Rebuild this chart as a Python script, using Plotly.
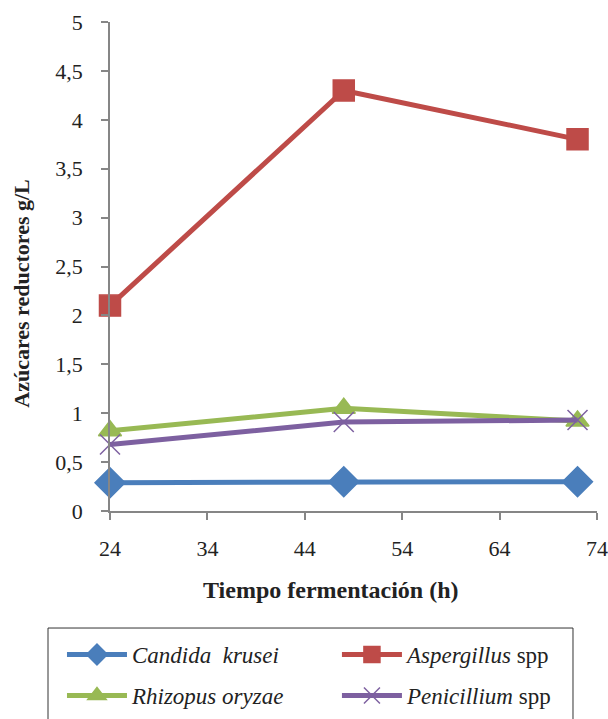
import plotly.graph_objects as go

x_hours = [24, 48, 72]
candida = [0.29, 0.30, 0.30]
aspergillus = [2.10, 4.30, 3.80]
rhizopus = [0.82, 1.05, 0.92]
penicillium = [0.68, 0.91, 0.93]

y_ticks = [0, 0.5, 1, 1.5, 2, 2.5, 3, 3.5, 4, 4.5, 5]
y_labels = ["0", "0,5", "1", "1,5", "2", "2,5", "3", "3,5", "4", "4,5", "5"]
x_ticks = [24, 34, 44, 54, 64, 74]

FONT = "'Liberation Serif', 'Times New Roman', serif"

series = [
    ("<i>Candida  krusei</i>", candida, "#4A7EBB", "diamond", 23, "legend"),
    ("<i>Aspergillus</i> spp", aspergillus, "#BE4B48", "square", 21, "legend2"),
    ("<i>Rhizopus oryzae</i>", rhizopus, "#98B954", "triangle-up", 20, "legend3"),
    ("<i>Penicillium</i> spp", penicillium, "#7D60A0", "x-thin-open", 20, "legend4"),
]

fig = go.Figure()
for name, vals, col, sym, sz, lg in series:
    fig.add_trace(go.Scatter(
        x=x_hours, y=vals, name=name, mode="lines+markers",
        line=dict(color=col, width=5),
        marker=dict(symbol=sym, size=sz, color=col, line=dict(color=col, width=1.5)),
        legend=lg, cliponaxis=False,
    ))

axis_col = "#868686"
leg_common = dict(
    xanchor="left", yanchor="top",
    font=dict(family=FONT, size=23, color="#222222"), bgcolor="rgba(0,0,0,0)", itemwidth=60,
)
col1_x, col2_x = -0.0986, 0.466
row1_y, row2_y = -0.2495, -0.3333

fig.update_layout(
    width=608, height=719,
    margin=dict(l=110, r=11, t=22, b=208, autoexpand=False),
    paper_bgcolor="white", plot_bgcolor="white",
    font=dict(family=FONT, size=22, color="#222222"),
    showlegend=True,
    xaxis=dict(
        range=[24, 74], tickvals=x_ticks, showgrid=False, zeroline=False,
        showline=True, linecolor=axis_col, linewidth=1.5,
        ticks="outside", ticklen=7, tickcolor=axis_col, tickwidth=1.5,
        ticklabelstandoff=10, automargin=False,
        tickfont=dict(family=FONT, size=22),
    ),
    yaxis=dict(
        range=[0, 5], tickvals=y_ticks, ticktext=y_labels, showgrid=False, zeroline=False,
        showline=True, linecolor=axis_col, linewidth=1.5,
        ticks="outside", ticklen=7, tickcolor=axis_col, tickwidth=1.5,
        ticklabelstandoff=14, automargin=False,
        tickfont=dict(family=FONT, size=22),
    ),
    annotations=[
        dict(text="<b>Tiempo fermentación (h)</b>", xref="paper", yref="paper",
             x=0.454, y=-0.1616, xanchor="center", yanchor="middle", showarrow=False,
             font=dict(family=FONT, size=24, color="#222222")),
        dict(text="<b>Azúcares reductores g/L</b>", xref="paper", yref="paper",
             x=-0.181, y=0.446, xanchor="center", yanchor="middle", showarrow=False,
             textangle=-90, font=dict(family=FONT, size=22, color="#222222")),
    ],
    legend=dict(x=col1_x, y=row1_y, **leg_common),
    legend2=dict(x=col2_x, y=row1_y, **leg_common),
    legend3=dict(x=col1_x, y=row2_y, **leg_common),
    legend4=dict(x=col2_x, y=row2_y, **leg_common),
    shapes=[dict(
        type="rect", xref="paper", yref="paper",
        x0=-0.1273, x1=0.9507, y0=-0.2393, y1=-0.46,
        line=dict(color="#333333", width=1), fillcolor="rgba(0,0,0,0)", layer="below",
    )],
)

fig.write_html(
    "out.html",
    config={"displayModeBar": False},
    post_script="document.body.style.margin='0';document.documentElement.style.overflow='hidden';",
)
